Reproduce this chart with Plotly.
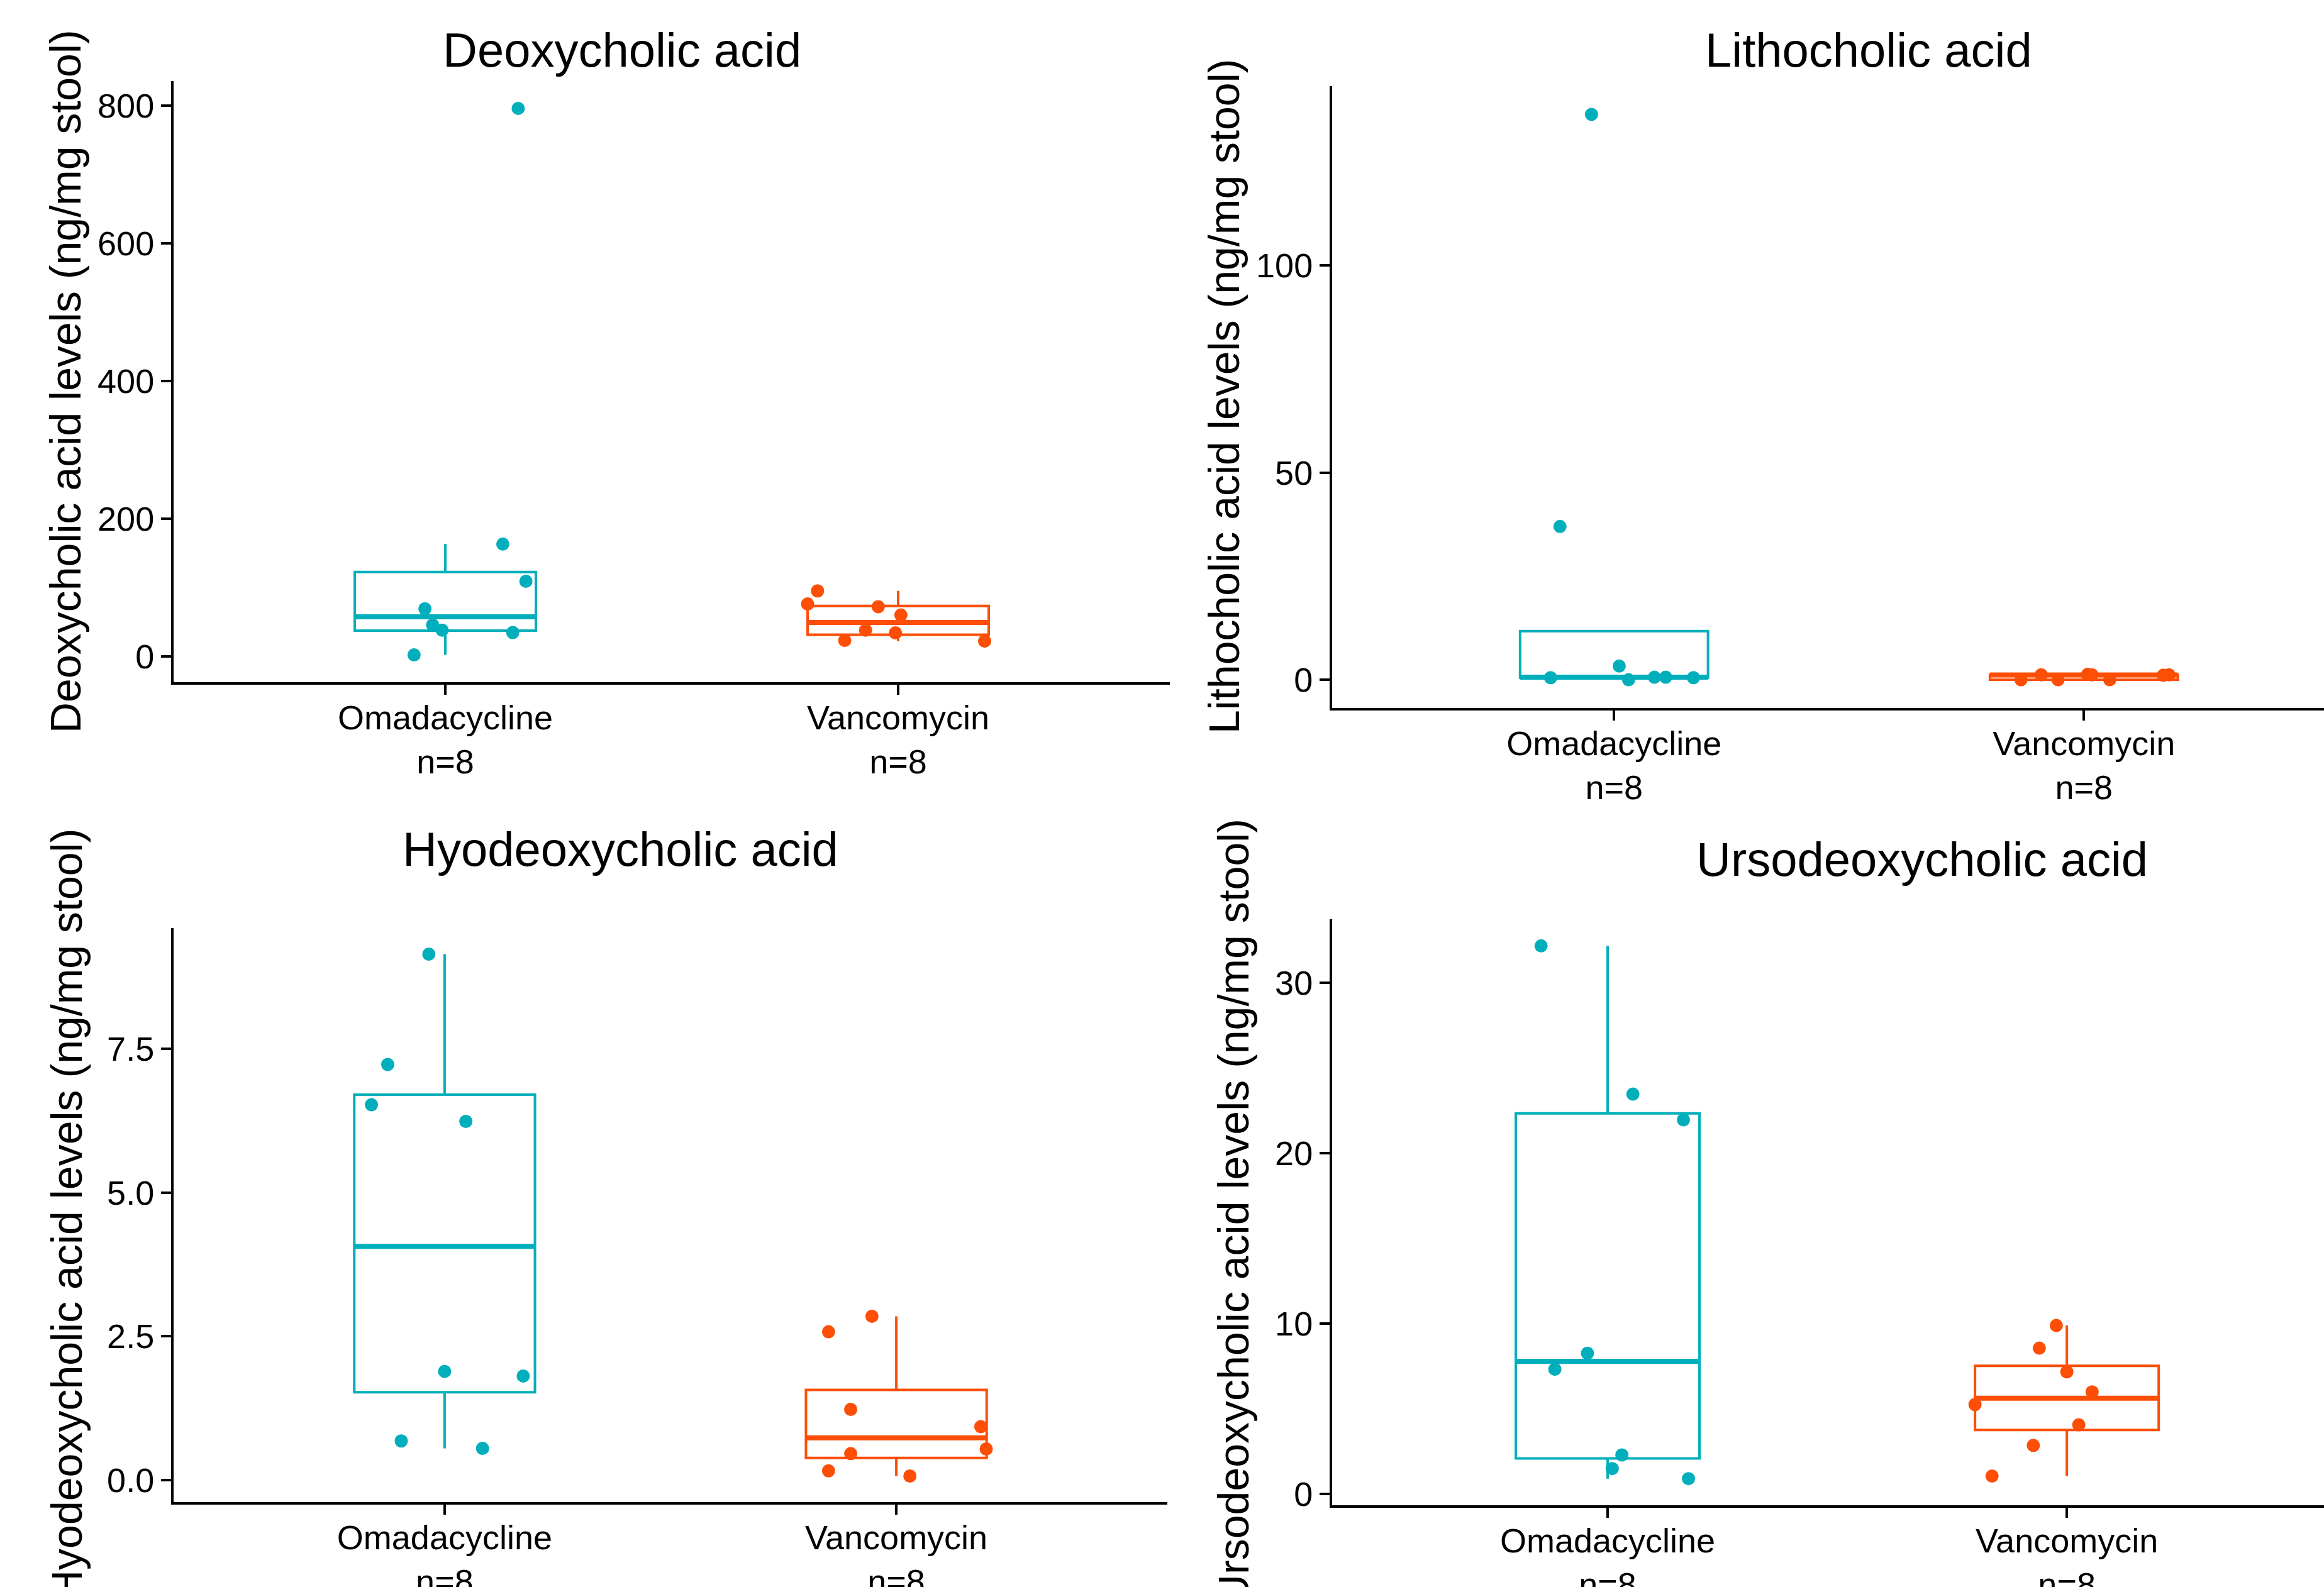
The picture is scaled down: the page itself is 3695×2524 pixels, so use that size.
import numpy as np
import plotly.graph_objects as go

# ---------------- data ----------------
groups = ["Omadacycline", "Vancomycin"]
group_pos = [1, 2]
colors = ["#00AFBB", "#FC4E07"]

titles = ["Deoxycholic acid", "Lithocholic acid", "Hyodeoxycholic acid", "Ursodeoxycholic acid"]
y_unit = " levels (ng/mg stool)"

deoxy_omada = [796, 163, 109, 69, 45.5, 38, 34.5, 2]
deoxy_omada_jit = [0.161, 0.127, 0.178, -0.045, -0.028, -0.007, 0.149, -0.069]
deoxy_vanco = [95, 76, 72, 60, 38, 34, 23, 22]
deoxy_vanco_jit = [-0.178, -0.200, -0.044, 0.006, -0.072, -0.006, -0.118, 0.191]

litho_omada = [136.5, 37.0, 3.3, 0.5, 0.0, 0.6, 0.6, 0.5]
litho_omada_jit = [-0.048, -0.115, 0.011, -0.135, 0.031, 0.086, 0.110, 0.169]
litho_vanco = [0.0, 1.2, 0.0, 1.3, 1.2, 0.0, 1.1, 1.2]
litho_vanco_jit = [-0.134, -0.091, -0.055, 0.008, 0.017, 0.055, 0.169, 0.181]

hyo_omada = [9.15, 7.23, 6.53, 6.24, 1.89, 1.81, 0.68, 0.55]
hyo_omada_jit = [-0.035, -0.126, -0.162, 0.047, 0.0, 0.174, -0.096, 0.084]
hyo_vanco = [2.85, 2.58, 1.23, 0.93, 0.54, 0.46, 0.16, 0.07]
hyo_vanco_jit = [-0.054, -0.150, -0.101, 0.187, 0.199, -0.101, -0.150, 0.030]

urso_omada = [32.16, 23.46, 21.95, 8.25, 7.31, 2.28, 1.48, 0.89]
urso_omada_jit = [-0.145, 0.055, 0.165, -0.044, -0.115, 0.031, 0.010, 0.176]
urso_vanco = [9.88, 8.55, 7.16, 5.98, 5.24, 4.05, 2.84, 1.04]
urso_vanco_jit = [-0.023, -0.060, 0.0, 0.055, -0.200, 0.026, -0.073, -0.163]

y_dticks = [200, 50, 2.5, 10]
y_formats = ["d", "d", ".1f", "d"]

panel_data = [
    [(deoxy_omada, deoxy_omada_jit), (deoxy_vanco, deoxy_vanco_jit)],
    [(litho_omada, litho_omada_jit), (litho_vanco, litho_vanco_jit)],
    [(hyo_omada, hyo_omada_jit), (hyo_vanco, hyo_vanco_jit)],
    [(urso_omada, urso_omada_jit), (urso_vanco, urso_vanco_jit)],
]

# ---------------- layout geometry (pixels of the 3695x2524 canvas) ----------------
W, H = 3695, 2524
BOX_W = 0.4
FONT = "Liberation Sans, Arial, Helvetica, sans-serif"

# plot area: left, right, top, bottom (px); x range
geom = [
    dict(l=276, r=1860, t=129, b=1085, xr=[0.4, 2.6]),
    dict(l=2118, r=3695, t=137, b=1126, xr=[0.4, 2.511]),
    dict(l=276, r=1856, t=1476, b=2389, xr=[0.4, 2.6]),
    dict(l=2118, r=3695, t=1462, b=2394, xr=[0.4, 2.560]),
]
title_pos = [(989, 80), (2971, 80), (986, 1350), (3056, 1366)]
ytitle_pos = [(104, 607), (1946, 631), (106, 1932), (1961, 1928)]


def gg_stats(vals):
    v = np.sort(np.asarray(vals, dtype=float))
    q1, med, q3 = np.percentile(v, [25, 50, 75])
    iqr = q3 - q1
    lo = v[v >= q1 - 1.5 * iqr].min()
    hi = v[v <= q3 + 1.5 * iqr].max()
    return q1, med, q3, lo, hi


fig = go.Figure()
annotations = []
layout_axes = {}

for i, pdata in enumerate(panel_data):
    k = "" if i == 0 else str(i + 1)
    xa, ya = "x" + k, "y" + k
    allv = []
    for gi, (vals, jit) in enumerate(pdata):
        pos = group_pos[gi]
        col = colors[gi]
        allv.extend(vals)
        q1, med, q3, lo, hi = gg_stats(vals)
        fig.add_trace(go.Box(
            x=[pos], q1=[q1], median=[med], q3=[q3], lowerfence=[lo], upperfence=[hi],
            width=BOX_W, whiskerwidth=0, boxpoints=False,
            line=dict(color=col, width=4), fillcolor="rgba(0,0,0,0)",
            xaxis=xa, yaxis=ya, showlegend=False, hoverinfo="skip",
        ))
        # thicker median line (ggplot fatten)
        fig.add_trace(go.Scatter(
            x=[pos - BOX_W / 2, pos + BOX_W / 2], y=[med, med], mode="lines",
            line=dict(color=col, width=8), xaxis=xa, yaxis=ya,
            showlegend=False, hoverinfo="skip",
        ))
        fig.add_trace(go.Scatter(
            x=[pos + j for j in jit], y=vals, mode="markers",
            marker=dict(color=col, size=21, line=dict(width=0)),
            xaxis=xa, yaxis=ya, showlegend=False, hoverinfo="skip",
        ))
    mn, mx = min(allv), max(allv)
    span = mx - mn
    yr = [mn - 0.05 * span, mx + 0.05 * span]
    g = geom[i]
    n_lab = [f"{grp}<br>n={len(pdata[gi][0])}" for gi, grp in enumerate(groups)]
    axis_common = dict(
        showline=True, linewidth=4, linecolor="black", showgrid=False, zeroline=False,
        ticks="outside", ticklen=16, tickwidth=4, tickcolor="black",
        tickfont=dict(family=FONT, size=54, color="black"),
        automargin=False,
    )
    layout_axes["xaxis" + k] = dict(
        axis_common, domain=[g["l"] / W, g["r"] / W], range=g["xr"],
        tickmode="array", tickvals=group_pos, ticktext=n_lab,
        ticklabelstandoff=-10,
        anchor=ya, fixedrange=True,
    )
    layout_axes["yaxis" + k] = dict(
        axis_common, domain=[1 - g["b"] / H, 1 - g["t"] / H], range=yr,
        dtick=y_dticks[i], tick0=0, tickformat=y_formats[i],
        anchor=xa, fixedrange=True,
    )
    tx, ty = title_pos[i]
    annotations.append(dict(
        text=titles[i], x=tx / W, y=1 - ty / H, xref="paper", yref="paper",
        xanchor="center", yanchor="middle", showarrow=False,
        font=dict(family=FONT, size=76, color="black"),
    ))
    yx, yy = ytitle_pos[i]
    annotations.append(dict(
        text=titles[i] + y_unit, x=yx / W, y=1 - yy / H, xref="paper", yref="paper",
        xanchor="center", yanchor="middle", showarrow=False, textangle=-90,
        font=dict(family=FONT, size=68, color="black"),
    ))

fig.update_layout(
    width=W, height=H, autosize=False,
    margin=dict(l=0, r=0, t=0, b=0, pad=0, autoexpand=False),
    paper_bgcolor="white", plot_bgcolor="white",
    font=dict(family=FONT, color="black"),
    annotations=annotations,
    showlegend=False,
    **layout_axes,
)

fig.write_html(
    "out.html",
    config={"displayModeBar": False, "staticPlot": True},
    post_script=(
        "document.documentElement.style.margin='0';"
        "document.body.style.margin='0';document.body.style.padding='0';"
        "document.documentElement.style.overflow='hidden';"
        "document.body.style.overflow='hidden';"
    ),
)
